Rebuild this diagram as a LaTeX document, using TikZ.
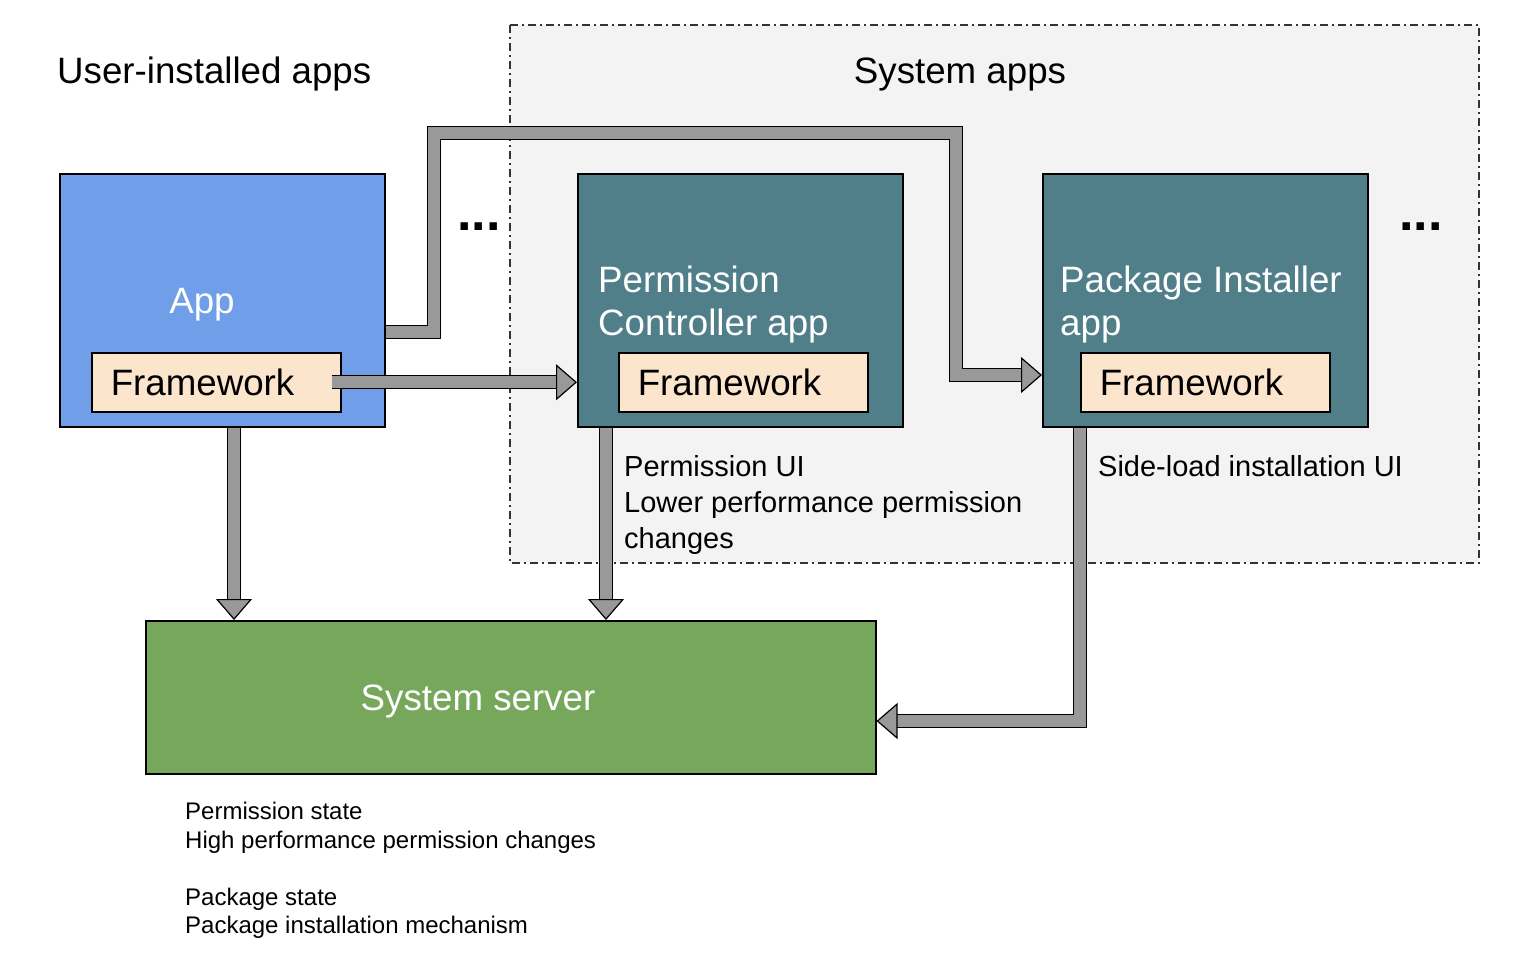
\documentclass[tikz,border=0pt]{standalone}
\usepackage{fontspec}
\setmainfont{Liberation Sans}
\usetikzlibrary{arrows.meta}

\definecolor{appblue}{RGB}{112,158,232}
\definecolor{systeal}{RGB}{80,127,137}
\definecolor{servergreen}{RGB}{119,167,90}
\definecolor{peach}{RGB}{252,229,205}
\definecolor{pipegray}{RGB}{153,153,153}
\definecolor{areagray}{RGB}{243,243,243}

\begin{document}
\begin{tikzpicture}[x=1pt, y=-1pt,
    bigfont/.style={font=\fontsize{36.7}{43}\selectfont},
    midfont/.style={font=\fontsize{29}{36}\selectfont},
    smallfont/.style={font=\fontsize{24}{28.5}\selectfont},
    appbox/.style={rectangle, draw, line width=1.5pt, minimum width=325pt, minimum height=253pt, anchor=north west, inner sep=0pt},
    fwbox/.style={rectangle, draw, line width=1.5pt, fill=peach, text width=211pt, inner xsep=19pt, inner ysep=0pt, minimum height=59pt, align=left, anchor=north west, bigfont},
    pipe/.style={draw=black, line width=1.2pt, double=pipegray, double distance=12pt, line join=miter, -{Triangle[length=21pt, width=36pt, fill=pipegray, line width=1.2pt]}}]
    \useasboundingbox (0,0) rectangle (1514,956);
    % Area: System apps
    \draw[fill=areagray, draw=black!80, line width=1.5pt, dash pattern=on 8pt off 4pt on 2pt off 4pt] (510,25) rectangle (1479,563);
    \node[bigfont, anchor=base west, inner sep=0] (userLabel) at (57,83) {User-installed apps};
    \node[bigfont, anchor=base, inner sep=0] (systemLabel) at (960,83) {System apps};
    % Rectangle: App
    \node[appbox, fill=appblue] (app) at (59,173) {};
    \node[bigfont, text=white, anchor=base, inner sep=0] (appText) at (202,313) {App};
    \node[fwbox] (fwApp) at (91,352) {Framework};
    % Rectangle: Permission Controller
    \node[appbox, fill=systeal] (perm) at (577,173) {};
    \node[bigfont, text=white, anchor=base west, align=left, inner sep=0] (permText) at (598,335) {Permission\\Controller app};
    \node[fwbox] (fwPerm) at (618,352) {Framework};
    % Rectangle: Package Installer
    \node[appbox, fill=systeal] (pkg) at (1042,173) {};
    \node[bigfont, text=white, anchor=base west, align=left, inner sep=0] (pkgText) at (1060,335) {Package Installer\\app};
    \node[fwbox] (fwPkg) at (1080,352) {Framework};
    % Dots
    \node[font=\bfseries\fontsize{52}{52}\selectfont, inner sep=0] (dotsLeft) at (479,227) {...};
    \node[font=\bfseries\fontsize{52}{52}\selectfont, inner sep=0] (dotsRight) at (1421,227) {...};
    % Rectangle: System server
    \node[rectangle, draw, line width=1.5pt, fill=servergreen, minimum width=730pt, minimum height=153pt, anchor=north west, inner sep=0] (server) at (145,620) {};
    \node[bigfont, text=white, anchor=base, inner sep=0] (serverText) at (478,710) {System server};
    % Notes
    \node[midfont, anchor=base west, align=left, inner sep=0] (permNote) at (624,548) {Permission UI\\Lower performance permission\\changes};
    \node[midfont, anchor=base west, inner sep=0] (pkgNote) at (1098,476) {Side-load installation UI};
    \node[smallfont, anchor=base west, align=left, inner sep=0] (serverNote) at (185,933.5) {Permission state\\High performance permission changes\\[28.5pt]Package state\\Package installation mechanism};
    % Arrows
    \draw[pipe] (app.south -| 234,0) -- (server.north -| 234,0);
    \draw[pipe] (perm.south -| 606,0) -- (server.north -| 606,0);
    \draw[pipe] ([xshift=-10pt]fwApp.east) -- (perm.west |- fwApp.east);
    \draw[pipe] (app.east |- 0,332) -| (434,133) -| (956,375) -- (pkg.west |- 0,375);
    \draw[pipe] (pkg.south -| 1080,0) |- (server.east |- 0,721);
\end{tikzpicture}
\end{document}
